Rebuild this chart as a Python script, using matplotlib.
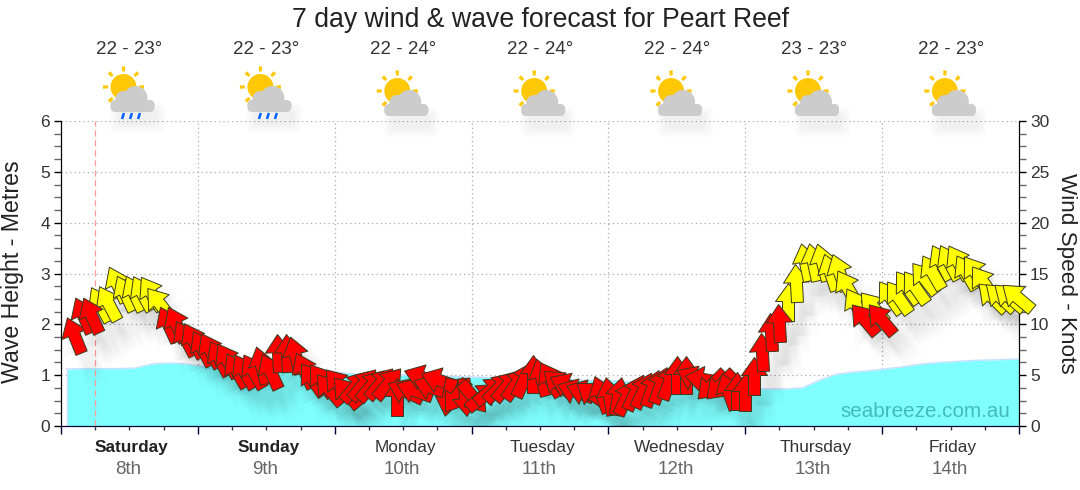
import matplotlib
matplotlib.use("Agg")
import matplotlib.pyplot as plt
from matplotlib.markers import MarkerStyle
from matplotlib.path import Path
from matplotlib.patches import Circle, Polygon, FancyBboxPatch
from matplotlib.ticker import MultipleLocator
from matplotlib.transforms import Affine2D, ScaledTranslation

plt.rcParams["font.family"] = ["Liberation Sans", "DejaVu Sans"]

days = ["Saturday", "Sunday", "Monday", "Tuesday", "Wednesday", "Thursday", "Friday"]
dates = ["8th", "9th", "10th", "11th", "12th", "13th", "14th"]
temps = ["22 - 23°", "22 - 23°", "22 - 24°", "22 - 24°", "22 - 24°", "23 - 23°", "22 - 23°"]
rainy = [True, True, False, False, False, False, False]

# hours since saturday midnight
wave_hours = list(range(1, 167, 3)) + [168]
wave_height = [
    1.12, 1.13, 1.13, 1.13, 1.14, 1.22, 1.24, 1.22, 1.17, 1.16, 1.15, 1.14,
    1.13, 1.12, 1.11, 1.10, 1.05, 1.02, 1.00, 1.00, 1.00, 0.99, 0.98, 0.97,
    0.96, 0.95, 0.95, 0.94, 0.93, 0.92, 0.90, 0.90, 0.89, 0.87, 0.85, 0.83,
    0.81, 0.79, 0.77, 0.75, 0.74, 0.73, 0.73, 0.75, 0.90, 1.02, 1.06, 1.09,
    1.13, 1.17, 1.22, 1.25, 1.27, 1.29, 1.30, 1.31, 1.32,
]

# one arrow every 1.5 hours or so
wind_hours = [2.3 + 1.49 * i for i in range(112)]
wind_speed = [
    9.0, 10.9, 10.9, 12.0, 12.1, 14.0, 13.1, 13.1, 13.1, 13.1, 12.1, 10.0, 10.0, 8.7, 8.5, 7.7,
    7.5, 6.7, 6.5, 5.5, 5.4, 5.4, 6.0, 5.4, 7.2, 7.2, 7.0, 5.5, 4.6, 4.5, 3.6, 4.1,
    3.3, 3.9, 4.1, 4.0, 4.2, 4.2, 2.9, 3.4, 3.5, 4.8, 3.8, 4.5, 2.9, 3.0, 2.9, 2.9,
    3.0, 3.5, 3.8, 4.0, 4.2, 4.6, 5.1, 4.8, 4.6, 4.2, 4.0, 3.4, 3.3, 3.1, 3.1, 3.0,
    3.0, 2.9, 3.3, 3.5, 3.7, 4.0, 4.4, 5.0, 5.0, 4.7, 4.6, 4.0, 4.0, 3.4, 3.4, 3.3,
    4.9, 7.3, 9.2, 10.1, 12.2, 14.1, 16.1, 16.1, 16.1, 15.1, 15.1, 13.7, 11.9, 10.5, 11.7, 10.5,
    12.7, 12.7, 13.7, 13.7, 14.6, 15.1, 16.1, 16.1, 16.1, 15.1, 15.1, 14.2, 12.7, 12.7, 12.7, 12.7,
]
# direction the arrow points, degrees clockwise from straight up
wind_heading = [
    -22, -24, -24, -28, -28, -25, -25, -25, -28, -32, -38, -25, -25, -28, -28, -28,
    -28, -28, -30, -30, -30, -30, -15, -25, -3, -3, -15, -25, -35, -35, -40, -40,
    -40, 40, 40, 40, 40, 40, 0, -65, -70, -70, -70, -70, 190, 215, 175, 140,
    50, 50, 45, 40, 35, 25, 0, -15, -30, -50, -65, -70, -70, -55, -20, -10,
    10, 25, 25, 25, 20, 20, 20, 0, 0, -65, -80, 225, 225, -20, 0, 0,
    0, -3, -3, -3, 0, -3, -12, -12, -15, -18, -20, -30, -30, -40, -40, -40,
    -35, -35, -35, -35, -38, -30, -28, -28, -30, -30, -35, -35, -45, -48, -50, -50,
]

W, H = 1080, 490
fig = plt.figure(figsize=(W / 100, H / 100), dpi=100)
ax = fig.add_axes([61 / W, 1 - 426 / H, 958 / W, 305 / H])
ax2 = ax.twinx()

ax.set_xlim(0, 168)
ax.set_ylim(0, 6)
ax2.set_ylim(0, 30)

ax.fill_between(wave_hours, wave_height, 0, color="#80ffff", lw=0, zorder=1)
ax.plot(wave_hours, wave_height, color="#c8e0ff", lw=1, zorder=1)
ax.plot([wave_hours[0], wave_hours[0]], [0, wave_height[0]], color="#c8e0ff", lw=1, zorder=1)

ax.grid(True, which="major", color="#aaaaaa", ls=(0, (1, 2.5)), lw=0.9)
ax.set_axisbelow(True)
ax.axvline(6, color="#ff9c9c", lw=0.9, ls=(0, (5, 3)), zorder=2)

ax.xaxis.set_major_locator(MultipleLocator(24))
ax.xaxis.set_minor_locator(MultipleLocator(6))
ax.yaxis.set_major_locator(MultipleLocator(1))
ax.yaxis.set_minor_locator(MultipleLocator(0.25))
ax2.yaxis.set_major_locator(MultipleLocator(5))
ax2.yaxis.set_minor_locator(MultipleLocator(1.25))
ax.tick_params(axis="x", which="major", length=6, width=1, color="#000033", labelbottom=False)
ax.tick_params(axis="x", which="minor", length=3, width=1, color="#333344")
ax.tick_params(axis="y", which="major", length=5, width=1, color="black", labelsize=12.5, labelcolor="#333333", pad=3)
ax.tick_params(axis="y", which="minor", length=5, width=1, color="#666666")
ax2.tick_params(axis="y", which="major", length=5, width=1, color="black", labelsize=12.5, labelcolor="#333333", pad=3)
ax2.tick_params(axis="y", which="minor", length=5, width=1, color="#666666")
for a in (ax, ax2):
    a.spines["top"].set_visible(False)
    a.spines["bottom"].set_color("#000033")

# arrow shape, 38 long pointing up
arrow = Path([(-6, -19), (-6, 1), (-13, 1), (0, 19), (13, 1), (6, 1), (6, -19), (-6, -19)], closed=True)
arrow_size = 38 * 0.72
shadow_shift = ScaledTranslation(10 / 100, -15 / 100, fig.dpi_scale_trans)

# soft shadows go under all the arrows
for hour, speed, heading in zip(wind_hours, wind_speed, wind_heading):
    marker = MarkerStyle(arrow, transform=Affine2D().rotate_deg(-heading))
    for grow in (1.9, 1.7, 1.5, 1.35, 1.2, 1.05, 0.9):
        ax2.plot([hour], [speed], marker=marker, ms=arrow_size * grow, mfc="#000000", mew=0, alpha=0.008,
                 transform=ax2.transData + shadow_shift, zorder=3)

for hour, speed, heading in zip(wind_hours, wind_speed, wind_heading):
    marker = MarkerStyle(arrow, transform=Affine2D().rotate_deg(-heading))
    strong = speed >= 11
    # red ones sit over the yellow ones
    ax2.plot([hour], [speed], marker=marker, ms=arrow_size, mfc="#ffff00" if strong else "#ff0000",
             mec="#3a3a20", mew=0.7, clip_on=False, zorder=4 if strong else 5)

# everything outside the plot area goes on a pixel overlay
over = fig.add_axes([0, 0, 1, 1], facecolor="none")
over.set_xlim(0, W)
over.set_ylim(H, 0)
over.axis("off")


def draw_icon(cx, cy, rain):
    # cx, cy is the sun centre
    cloud = [(-6, 19, 6), (0, 12, 8), (12, 11, 12), (25, 19, 6)]
    for grow in (9, 7, 5, 3, 1):
        over.add_patch(FancyBboxPatch((cx - 5 - grow, cy + 25 - grow), 38 + 2 * grow, 12 + 2 * grow,
                                      boxstyle="round,pad=0,rounding_size=6", fc="black", ec="none", alpha=0.012))
    for i in range(8):
        t = Affine2D().rotate_deg(i * 45).translate(cx, cy)
        ray = [t.transform_point(p) for p in [(-1.8, -20.5), (1.8, -20.5), (1.4, -15.5), (-1.4, -15.5)]]
        over.add_patch(Polygon(ray, fc="#ffc807", ec="none"))
    over.add_patch(Circle((cx, cy), 13, fc="#ffc807", ec="none"))
    for dx, dy, r in cloud:
        over.add_patch(Circle((cx + dx, cy + dy), r, fc="#cccccc", ec="none"))
    over.add_patch(FancyBboxPatch((cx - 13, cy + 13), 44, 12, boxstyle="round,pad=0,rounding_size=5", fc="#cccccc", ec="none"))
    if rain:
        for dx in (-1, 7, 15):
            over.plot([cx + dx + 1.5, cx + dx - 0.5], [cy + 26, cy + 32], color="#0066ff", lw=1.8, solid_capstyle="butt")


for i in range(7):
    mid = 129.5 + 136.9 * i
    over.text(mid, 50, temps[i], ha="center", va="center", fontsize=13.5, color="#333333")
    draw_icon(mid - 6, 87 if rainy[i] else 91, rainy[i])
    weight = "bold" if i < 2 else "normal"
    colour = "#222222" if i < 2 else "#333333"
    over.text(mid + 2, 447, days[i], ha="center", va="center", fontsize=12.4, fontweight=weight, color=colour)
    over.text(mid - 1, 469, dates[i], ha="center", va="center", fontsize=13.5, color="#666666")

over.text(540, 20, "7 day wind & wave forecast for Peart Reef", ha="center", va="center", fontsize=19.2, color="#222222")
over.text(13, 272, "Wave Height - Metres", rotation=90, ha="center", va="center", fontsize=16.7, color="#222222")
over.text(1067, 273, "Wind Speed - Knots", rotation=-90, ha="center", va="center", fontsize=16.2, color="#222222")
over.text(1010, 411, "seabreeze.com.au", ha="right", va="center", fontsize=14.9, color="#44bbbb")

fig.savefig("out.png", dpi=100)
